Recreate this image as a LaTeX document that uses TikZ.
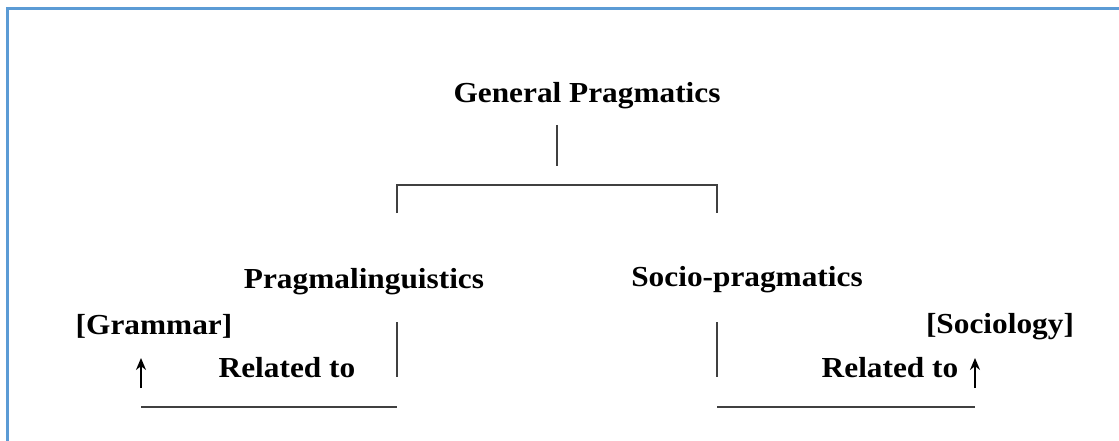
\documentclass[tikz,border=0pt]{standalone}
\usepackage{fontspec}
\setmainfont{Liberation Serif}[FakeStretch=1.08]
\usetikzlibrary{arrows.meta}
\definecolor{framblue}{RGB}{91,155,213}
\begin{document}
\begin{tikzpicture}[x=1pt, y=-1pt, >={Stealth[length=12pt, width=10pt]},
    label/.style={anchor=base, inner sep=0pt, font=\fontsize{29}{34}\selectfont\bfseries},
    tree/.style={draw=black!75, line width=1.3pt},
    frame/.style={draw=framblue, line width=3pt}]
  \useasboundingbox (0,0) rectangle (1119,441);
  \draw[frame] (7,445) -- (7,9) -- (1125,9);
  \node[label] (gp) at (587,103) {General Pragmatics};
  \node[label] (pl) at (364,288) {Pragmalinguistics};
  \node[label] (sp) at (747,286) {Socio-pragmatics};
  \node[label] (gram) at (154,334) {[Grammar]};
  \node[label] (soc) at (1000,333) {[Sociology]};
  \node[label] (relL) at (287,377) {Related to};
  \node[label] (relR) at (890,377) {Related to};
  \coordinate (stemTop) at (557,125);
  \coordinate (stemBot) at (557,166);
  \coordinate (brL) at (397,185);
  \coordinate (brR) at (717,185);
  \coordinate (legL) at (397,213);
  \coordinate (legR) at (717,213);
  \coordinate (pTop) at (397,322);
  \coordinate (pBot) at (397,377);
  \coordinate (sTop) at (717,322);
  \coordinate (sBot) at (717,377);
  \coordinate (baseL) at (141,407);
  \coordinate (baseLR) at (397,407);
  \coordinate (baseRL) at (717,407);
  \coordinate (baseR) at (975,407);
  \coordinate (arrL) at (141,388);
  \coordinate (arrLtip) at (141,358);
  \coordinate (arrR) at (975,388);
  \coordinate (arrRtip) at (975,358);
  \draw[tree] (stemTop) -- (stemBot);
  \draw[tree] (legL) -- (brL) -- (brR) -- (legR);
  \draw[tree] (pTop) -- (pBot);
  \draw[tree] (sTop) -- (sBot);
  \draw[tree] (baseL) -- (baseLR);
  \draw[tree] (baseRL) -- (baseR);
  \draw[->, line width=2pt] (arrL) -- (arrLtip);
  \draw[->, line width=2pt] (arrR) -- (arrRtip);
\end{tikzpicture}
\end{document}
